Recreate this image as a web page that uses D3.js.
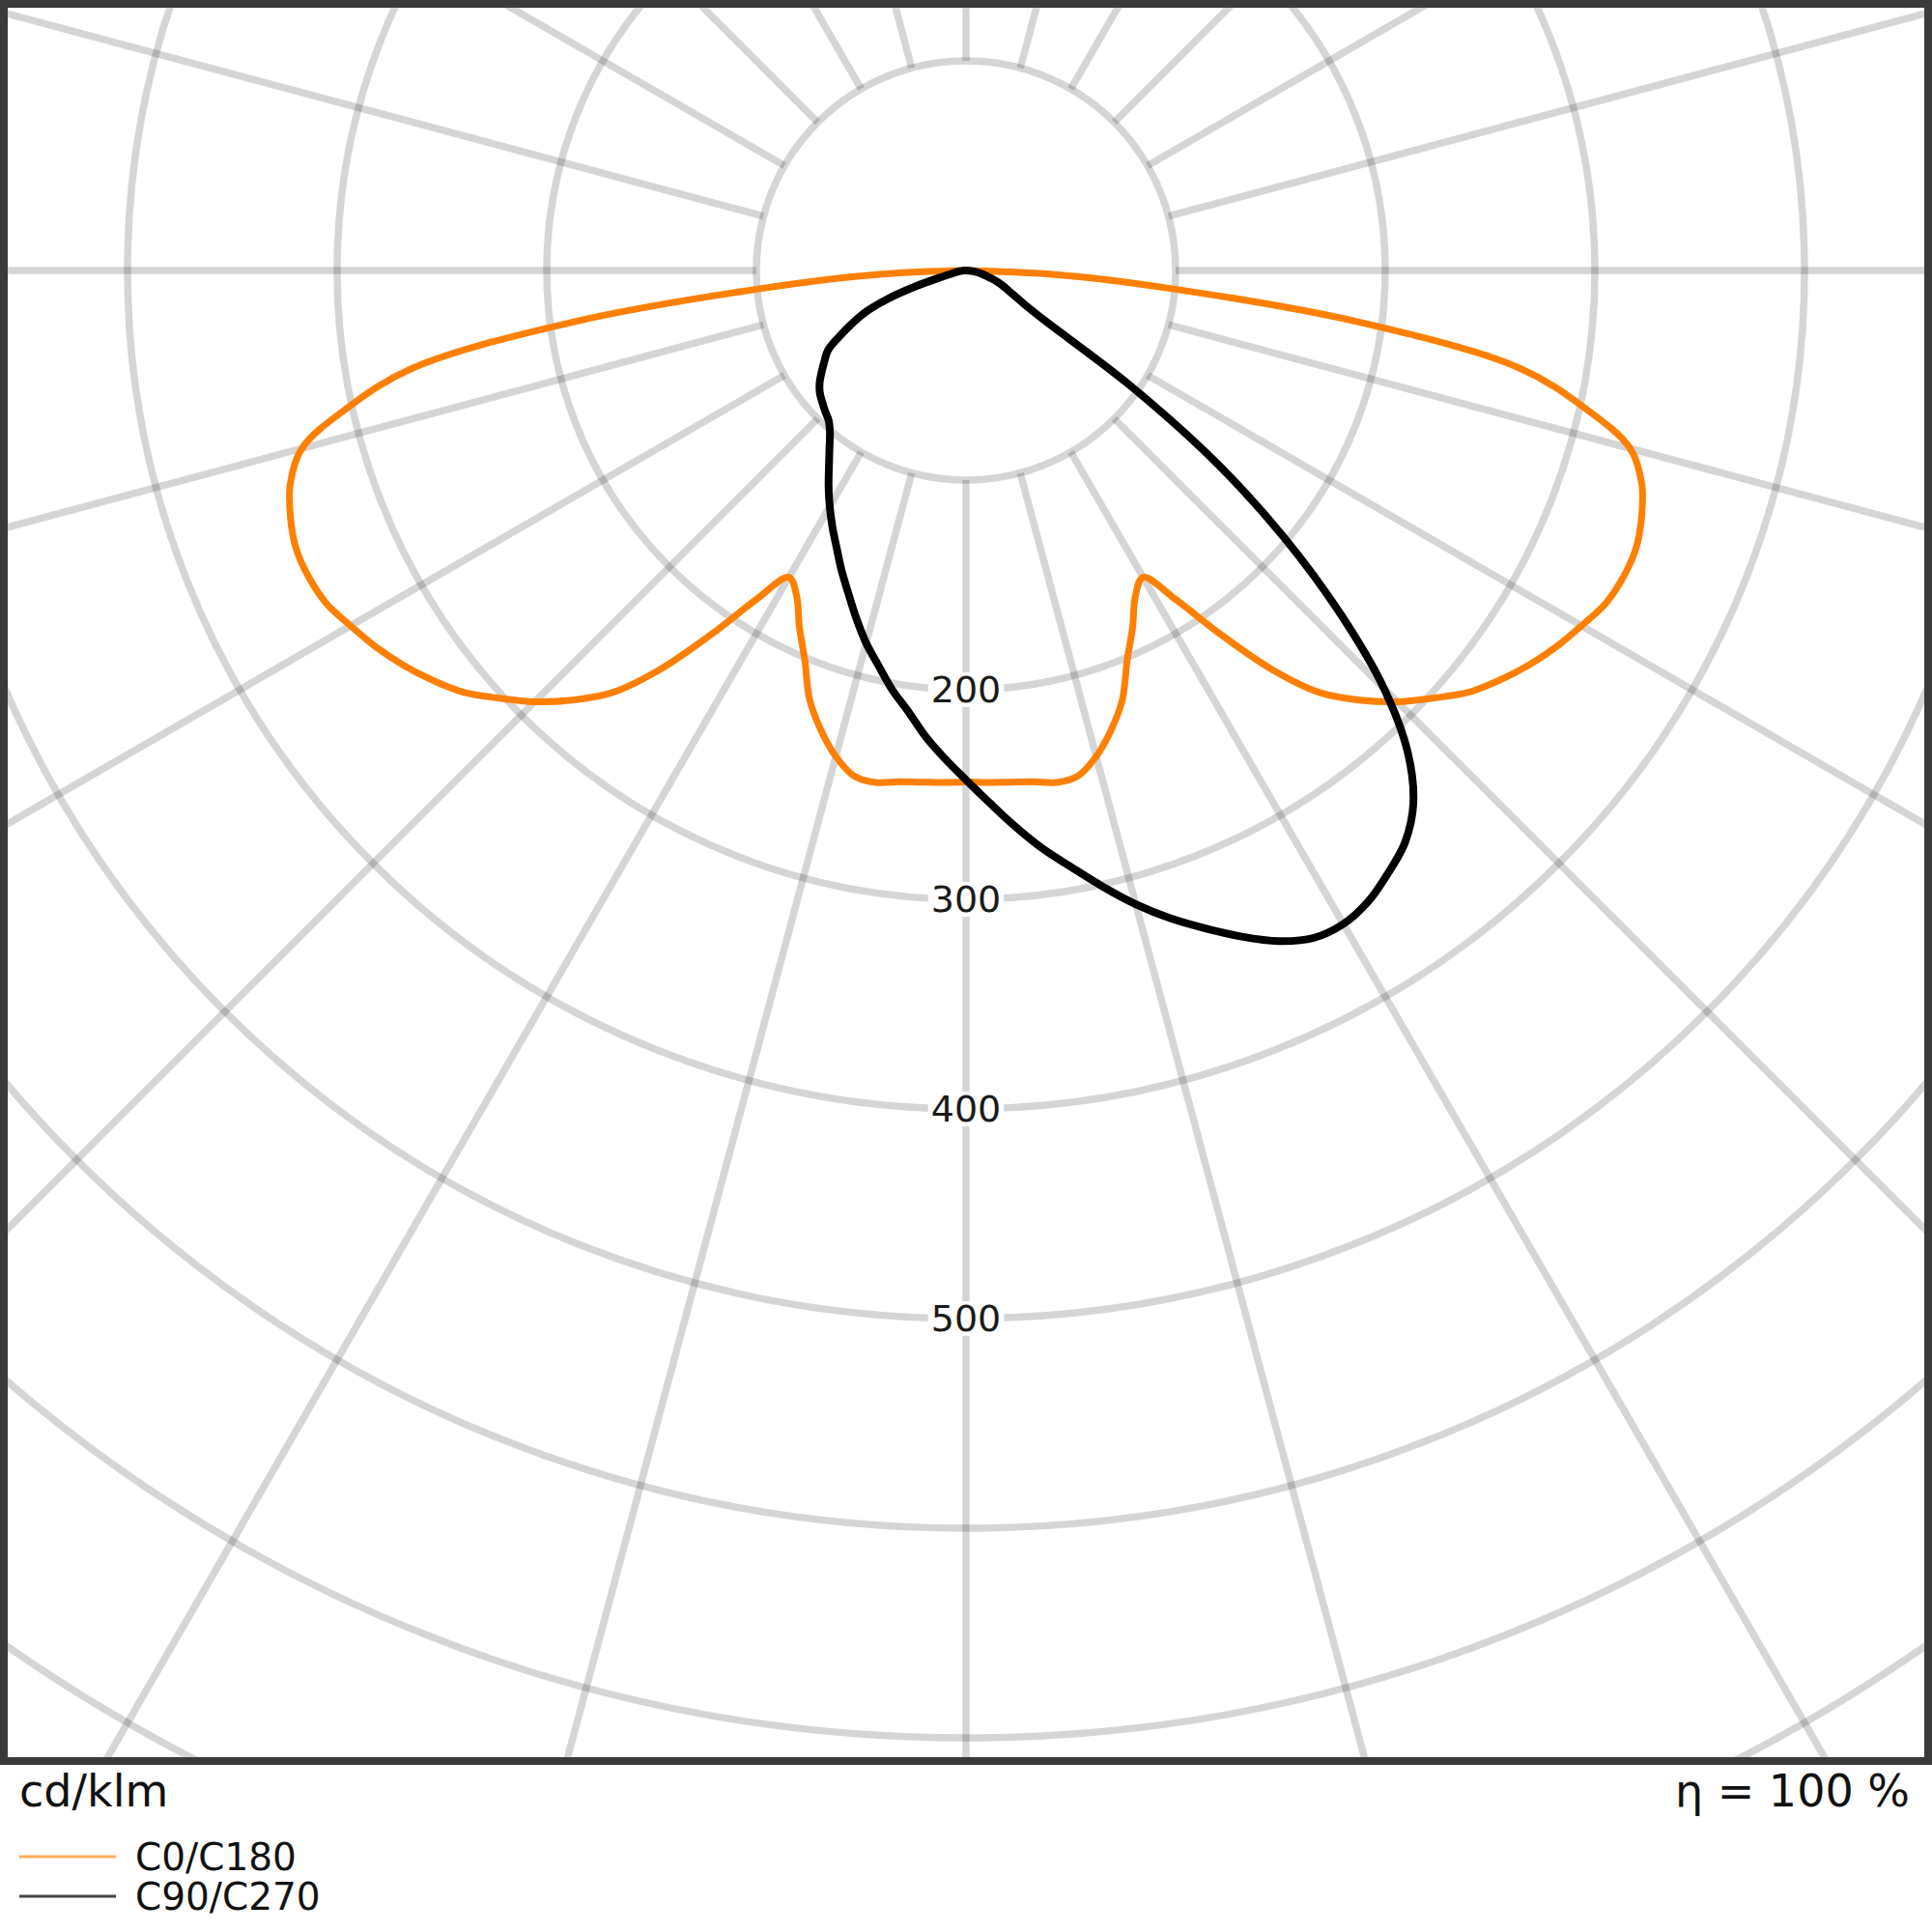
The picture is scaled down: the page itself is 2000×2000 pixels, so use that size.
<!DOCTYPE html>
<html><head><meta charset="utf-8">
<script src="https://cdn.jsdelivr.net/npm/d3@7"></script>
<style>html,body{margin:0;padding:0;background:#fff;} svg{display:block;}</style>
</head><body>
<script>
// ---- data (cd/klm) ----
const gammaDeg = [0,2.5,5,7.5,10,12.5,15,17.5,20,22.5,25,27.5,30,32.5,35,37.5,40,42.5,45,47.5,50,52.5,55,57.5,60,62.5,65,67.5,70,72.5,75,77.5,80,82.5,85,87.5,90];
const c0   = [244,244.5,245,246,248,247,240,230,218,201,188,175,169,186,212,240,263,278,291,302,313,321,328,334,339,344,346,346,343,338,328,302,268,190,97,40,0];
const c180 = [244,244.5,245,246,248,247,240,230,218,201,188,175,169,186,212,240,263,278,291,302,313,321,328,334,339,344,346,346,343,338,328,302,268,190,97,40,0];
const c90  = [243,254,266,278,289,301,313,324,334,344,353,359,360,357,351,344,332,312,282,242,198,150,95,45,32,26,22,19,16,13,10,8,6,4.5,3,1.5,0];
const c270 = [243,233,223,212,203,193,184,174,164,155,146,138,130,122,114,107,101,97,95,93,91,88,84,80,76,68,60,52,40,25,12,7,5,3.5,2,1,0];
const ringValues = [100,200,300,400,500,600,700,800];
const ringLabels = [200,300,400,500];
const spokeAngles = d3.range(0,360,15);
const seriesNames = ["C0/C180","C90/C270"];
const unitText = "cd/klm";
const etaText = "η = 100 %";

// ---- layout ----
const W=2000, H=2000, cx=1000, cy=280;
const frame = {x:4, y:4, w:1992, h:1819};
const r = d3.scaleLinear().domain([0,100]).range([0,217]);
const font = "DejaVu Sans, sans-serif";

const svg = d3.select("body").append("svg").attr("width",W).attr("height",H);
svg.append("rect").attr("width",W).attr("height",H).attr("fill","#fff");

svg.append("clipPath").attr("id","clip").append("rect")
  .attr("x",0).attr("y",0).attr("width",W).attr("height",frame.y+frame.h);

const outer = svg.append("g").attr("clip-path","url(#clip)");
const g = outer.append("g").attr("transform",`translate(${cx},${cy})`);
const gridColor = "rgba(0,0,0,0.165)";
g.selectAll("circle.ring").data(ringValues).join("circle")
  .attr("r",d=>r(d)).attr("fill","none").attr("stroke",gridColor).attr("stroke-width",7.5);
g.selectAll("line.spoke").data(spokeAngles).join("line")
  .attr("x1",d=>r(100)*Math.sin(d*Math.PI/180)).attr("y1",d=>r(100)*Math.cos(d*Math.PI/180))
  .attr("x2",d=>r(1000)*Math.sin(d*Math.PI/180)).attr("y2",d=>r(1000)*Math.cos(d*Math.PI/180))
  .attr("stroke",gridColor).attr("stroke-width",7.5);

// ring labels with white background
const lg = g.selectAll("g.lab").data(ringLabels).join("g").attr("transform",d=>`translate(0,${r(d)})`);
const labTexts = lg.append("text").attr("text-anchor","middle").attr("dominant-baseline","central")
  .attr("font-family",font).attr("font-size",38).attr("fill","#1a1a1a").text(d=>d);
labTexts.each(function(){
  const b=this.getBBox();
  d3.select(this.parentNode).insert("rect","text").attr("x",b.x-3).attr("y",b.y+4).attr("width",b.width+6).attr("height",b.height-8).attr("fill","#fff");
});

// curves
function series(right,left){
  const pts=[];
  for(let i=gammaDeg.length-1;i>=0;i--) pts.push([Math.PI-gammaDeg[i]*Math.PI/180, r(right[i])]);
  for(let i=1;i<gammaDeg.length;i++) pts.push([Math.PI+gammaDeg[i]*Math.PI/180, r(left[i])]);
  return pts;
}
const line = d3.lineRadial().angle(d=>d[0]).radius(d=>d[1]).curve(d3.curveCatmullRom.alpha(0.5));
g.append("path").attr("d",line(series(c0,c180))).attr("fill","none").attr("stroke","#ff8000").attr("stroke-width",7).attr("stroke-linejoin","round");
g.append("path").attr("d",line(series(c90,c270))).attr("fill","none").attr("stroke","#000").attr("stroke-width",8).attr("stroke-linejoin","round");

// frame
svg.append("rect").attr("x",frame.x).attr("y",frame.y).attr("width",frame.w).attr("height",frame.h)
  .attr("fill","none").attr("stroke","#3a3a3a").attr("stroke-width",8);

// texts
svg.append("text").attr("x",20).attr("y",1870).attr("font-family",font).attr("font-size",46).attr("fill","#111").text(unitText);
svg.append("text").attr("x",1977).attr("y",1870).attr("text-anchor","end").attr("font-family",font).attr("font-size",46).attr("fill","#111").text(etaText);

// legend
const legColors = ["#ffae5c","#444"];
seriesNames.forEach((s,i)=>{
  const y = 1922 + i*41;
  svg.append("line").attr("x1",20).attr("x2",120).attr("y1",y).attr("y2",y).attr("stroke",legColors[i]).attr("stroke-width",3);
  svg.append("text").attr("x",140).attr("y",y+14).attr("font-family",font).attr("font-size",39).attr("fill","#111").text(s);
});
</script>
</body></html>
